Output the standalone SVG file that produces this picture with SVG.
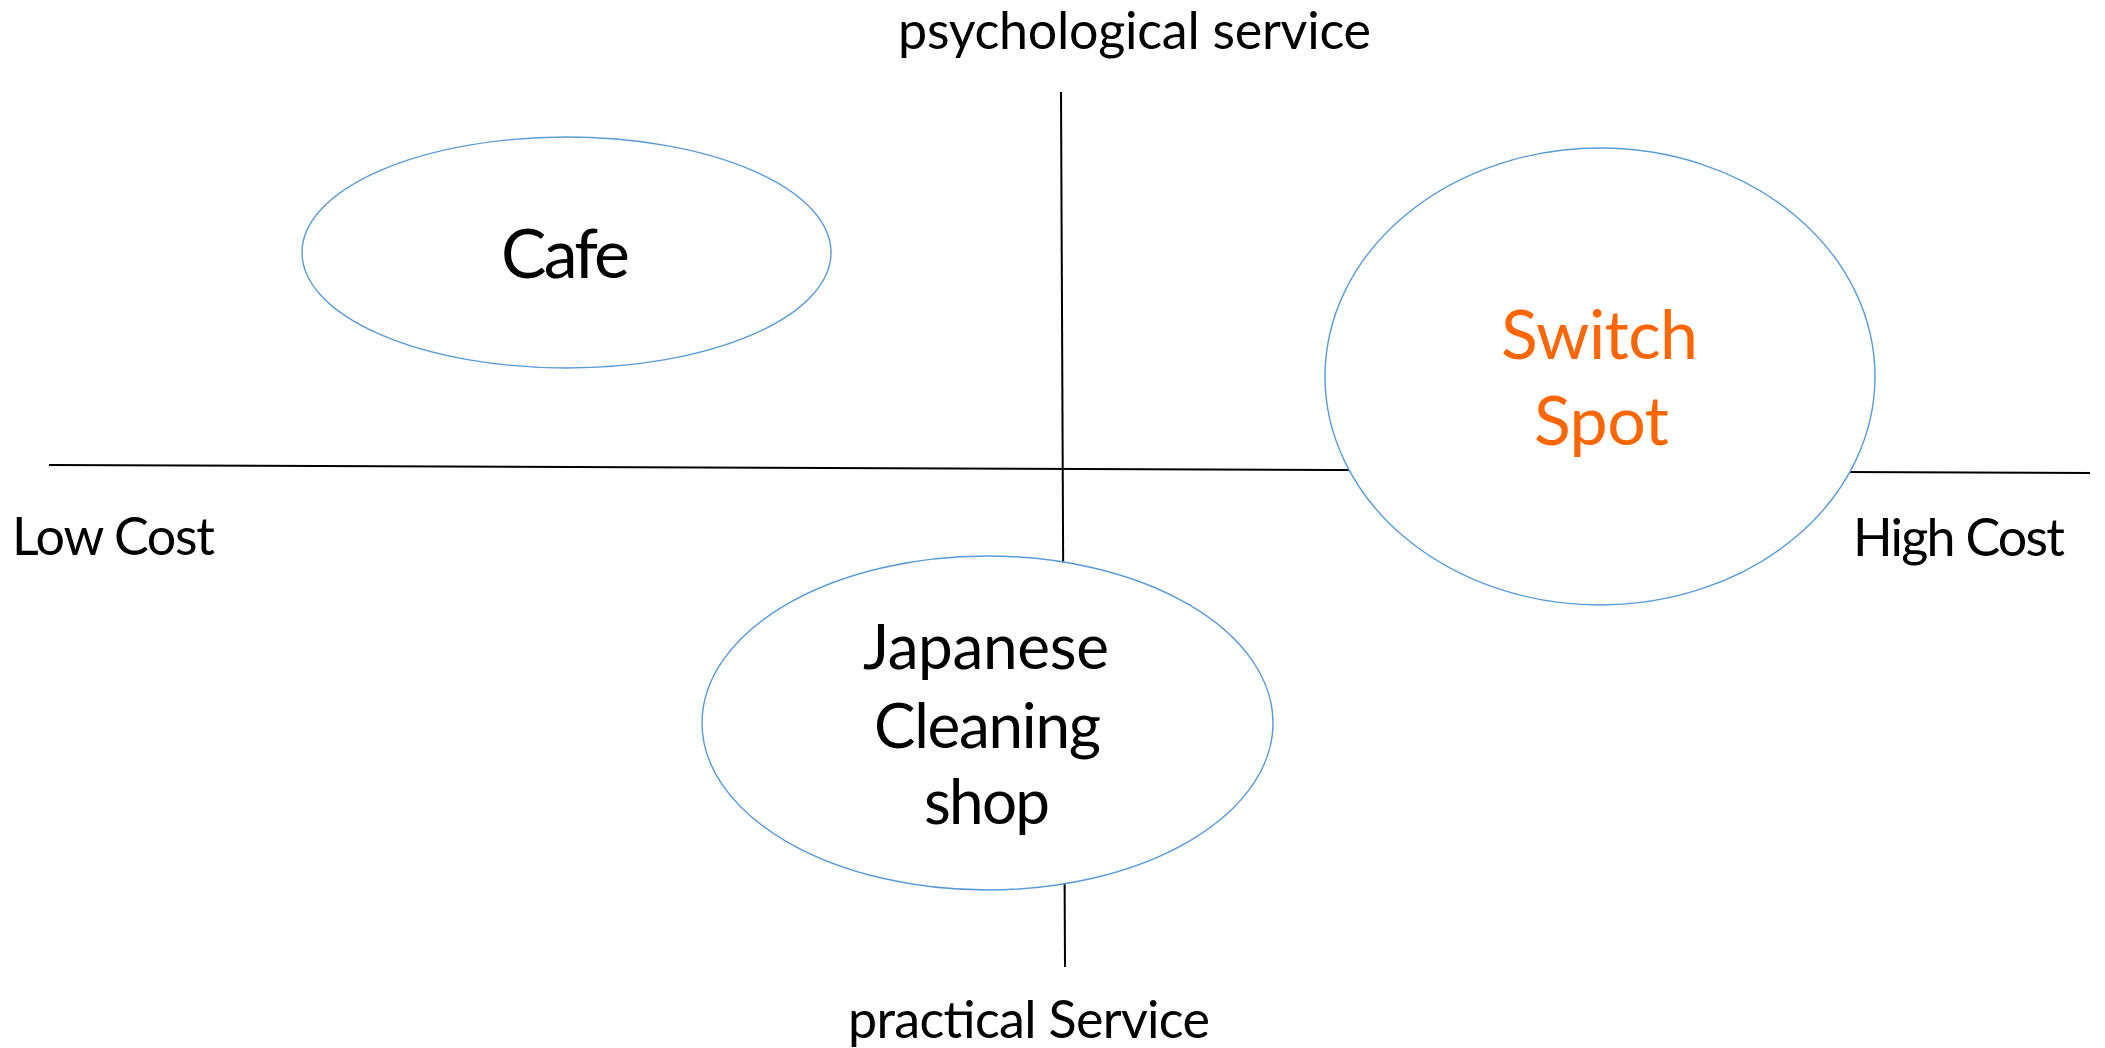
<svg xmlns="http://www.w3.org/2000/svg" width="2105" height="1048" viewBox="0 0 2105 1048">
<style>
.axis{stroke:#000;stroke-width:2;fill:none}
.node{fill:#fff;stroke:#5B9BD5;stroke-width:1.4}
.t{font-family:Lato,"Open Sans","Liberation Sans",sans-serif;fill:#000}
.lbl{font-size:52px}
.big{font-size:68px;text-anchor:start}
.jp{font-size:62px}
.orange{fill:#FF6600}
</style>
<rect width="2105" height="1048" fill="#fff"/>
<g id="connectors">
<line class="axis" x1="49" y1="465" x2="2090" y2="473"/>
<line class="axis" x1="1061" y1="92" x2="1065" y2="967"/>
</g>
<g id="axis-labels">
<text class="t lbl" x="898" y="49" textLength="473" lengthAdjust="spacing">psychological service</text>
<text class="t lbl" x="12" y="555" textLength="203" lengthAdjust="spacing">Low Cost</text>
<text class="t lbl" x="1853" y="556" textLength="212" lengthAdjust="spacing">High Cost</text>
<text class="t lbl" x="848" y="1038" textLength="362" lengthAdjust="spacing">practical Service</text>
</g>
<g id="cafe">
<ellipse class="node" cx="566.5" cy="252.5" rx="264.5" ry="115.5"/>
<text class="t big" x="501" y="278" textLength="129" lengthAdjust="spacing">Cafe</text>
</g>
<g id="switch-spot">
<ellipse class="node" cx="1600" cy="376.5" rx="275" ry="228.5"/>
<text class="t big orange" x="1501" y="359" textLength="197" lengthAdjust="spacing">Switch</text>
<text class="t big orange" x="1534" y="445" textLength="135" lengthAdjust="spacing">Spot</text>
</g>
<g id="japanese-cleaning-shop">
<ellipse class="node" cx="987.5" cy="723" rx="285.5" ry="167"/>
<text class="t big jp" x="863" y="669" textLength="246" lengthAdjust="spacing">Japanese</text>
<text class="t big jp" x="874" y="748" textLength="227" lengthAdjust="spacing">Cleaning</text>
<text class="t big jp" x="924" y="824" textLength="126" lengthAdjust="spacing">shop</text>
</g>
</svg>
